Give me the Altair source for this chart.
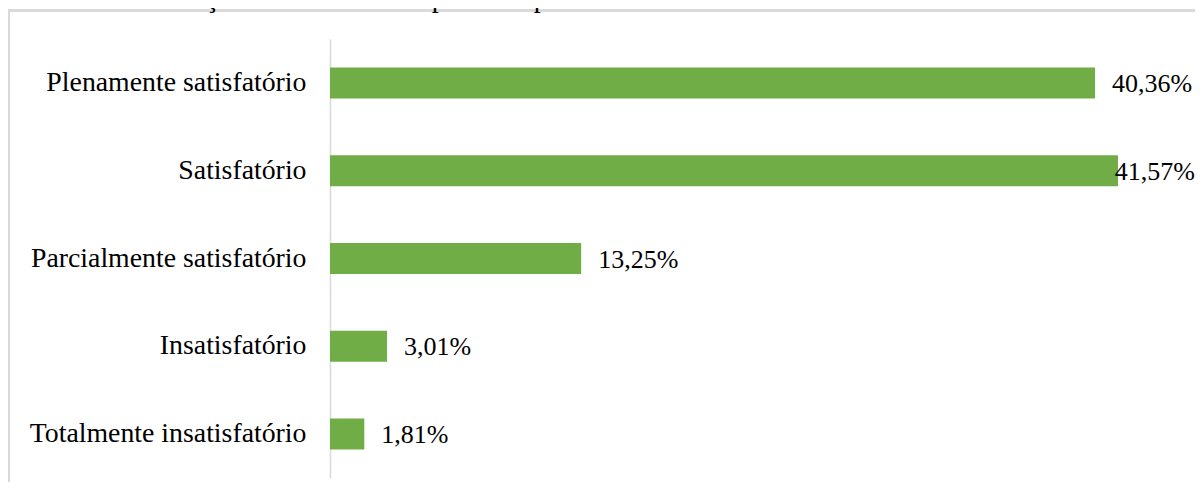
import altair as alt
import pandas as pd

categories = [
    "Plenamente satisfatório",
    "Satisfatório",
    "Parcialmente satisfatório",
    "Insatisfatório",
    "Totalmente insatisfatório",
]
values = [40.36, 41.57, 13.25, 3.01, 1.81]
value_labels = ["40,36%", "41,57%", "13,25%", "3,01%", "1,81%"]
title_text = "Gráfico 7 – Avaliação do atendimento prestado pela Tutoria."

df = pd.DataFrame({"cat": categories, "val": values, "label": value_labels})

W = 853
H = 439
FONT = "Liberation Serif"
xscale = alt.Scale(domain=[0, 45])
yscale = alt.Scale(paddingInner=0.647, paddingOuter=0.3235)

base = alt.Chart(df)

bars = base.mark_bar(color="#70ad47").encode(
    x=alt.X("val:Q", scale=xscale, axis=None),
    y=alt.Y(
        "cat:N",
        sort=categories,
        scale=yscale,
        axis=alt.Axis(
            title=None,
            ticks=False,
            grid=False,
            labelFont=FONT,
            labelFontSize=27.8,
            labelColor="#000000",
            labelPadding=24,
            labelLimit=400,
            domainColor="#d9d9d9",
            domainWidth=1.5,
        ),
    ),
)

text = base.transform_calculate(
    lx="min(datum.val + 0.9, 41.4)"
).mark_text(
    align="left", baseline="middle", font=FONT, fontSize=26, color="#000000", dy=1
).encode(
    x=alt.X("lx:Q", scale=xscale, axis=None),
    y=alt.Y("cat:N", sort=categories, scale=yscale),
    text="label:N",
)

frame_top = alt.Chart(df).mark_rule(color="#d9d9d9", strokeWidth=2).encode(
    x=alt.value(-330), x2=alt.value(W + 40), y=alt.value(-28.5)
)
frame_left = alt.Chart(df).mark_rule(color="#d9d9d9", strokeWidth=2).encode(
    x=alt.value(-321), y=alt.value(-28.5), y2=alt.value(H + 40)
)
title_mark = alt.Chart(pd.DataFrame({"t": [title_text]})).mark_text(
    align="left", baseline="alphabetic", font=FONT, fontSize=28, color="#000000"
).encode(x=alt.value(-330), y=alt.value(-32), text="t:N")

chart = alt.layer(frame_top, frame_left, title_mark, bars, text).properties(
    width=W,
    height=H,
    autosize=alt.AutoSizeParams(type="none"),
    padding={"left": 322, "top": 31, "right": 12, "bottom": 4},
).configure(background="white").configure_view(strokeWidth=0)

chart.save("out.html", embed_options={"renderer": "svg", "actions": False})
